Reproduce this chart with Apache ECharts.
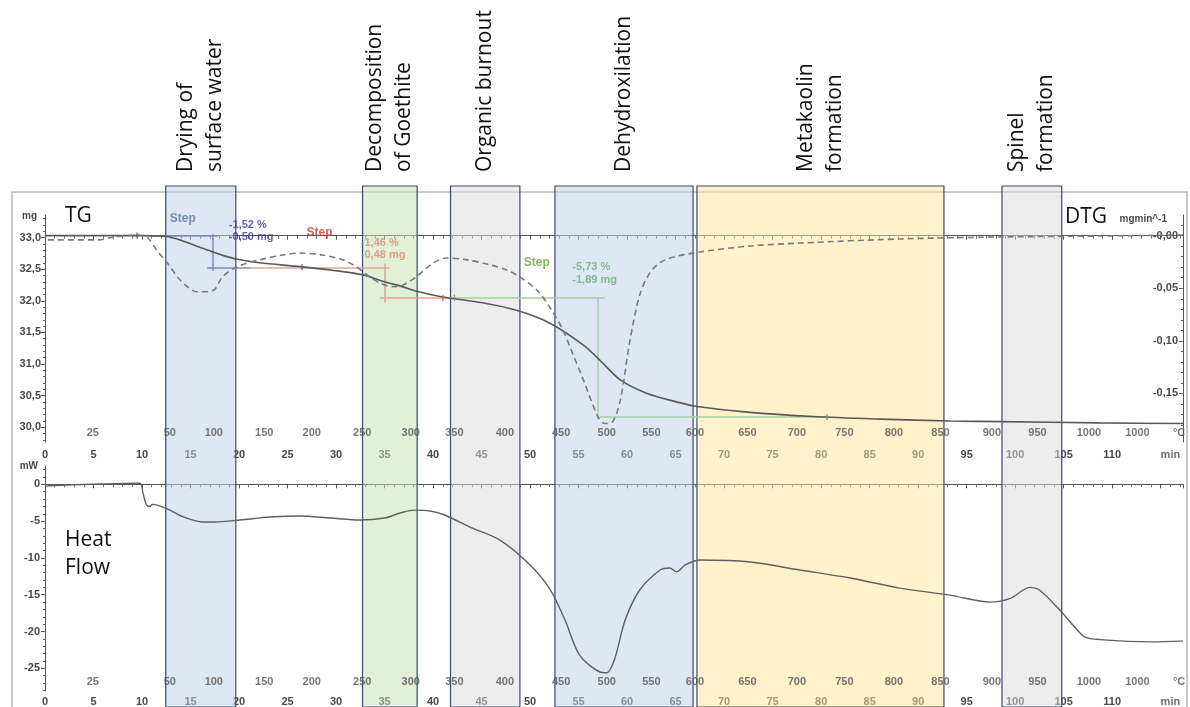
<!DOCTYPE html>
<html>
<head>
<meta charset="utf-8">
<script src="https://cdn.jsdelivr.net/npm/echarts@6/dist/echarts.min.js"></script>
<style>
  html, body { margin: 0; padding: 0; background: #ffffff; }
  #chart { width: 1190px; height: 707px; }
</style>
</head>
<body>
<div id="chart"></div>
<script>
// ---- Thermal analysis data (time in min) ----
// TG: sample mass, mg
const tgData = [
  [0, 33.03], [5, 33.03], [9.5, 33.03], [12.4, 33.02], [13.5, 32.98], [14.5, 32.93],
  [15.9, 32.85], [17.3, 32.77], [18.5, 32.71], [19.7, 32.66], [22.1, 32.60], [26.3, 32.54],
  [29.7, 32.48], [32.8, 32.41], [34.8, 32.31], [36.9, 32.22], [38.3, 32.15], [41.0, 32.06],
  [45.1, 31.97], [48.6, 31.85], [52.0, 31.65], [55.5, 31.30], [57.2, 31.06], [59.3, 30.75],
  [62.0, 30.54], [65.4, 30.39], [67.2, 30.33], [72.4, 30.24], [79.2, 30.17], [86.1, 30.13],
  [93.3, 30.10], [98.5, 30.09], [108.7, 30.07], [117.3, 30.06]
];
// DTG: mass change rate, mg/min
const dtgData = [
  [0.3, -0.004], [5.6, -0.004], [6.7, -0.002], [9.5, 0.0007], [10.5, -0.001], [11.5, -0.0136],
  [12.6, -0.026], [13.9, -0.042], [14.9, -0.050], [15.6, -0.0533], [16.7, -0.0533], [17.5, -0.051],
  [18.3, -0.039], [19.8, -0.0295], [22.1, -0.023], [24.5, -0.0184], [26.3, -0.0165], [28.6, -0.0184],
  [30.7, -0.023], [32.1, -0.0295], [33.2, -0.0374], [34.5, -0.045], [35.9, -0.0486], [36.9, -0.047],
  [38.3, -0.039], [40.0, -0.026], [41.4, -0.0212], [43.5, -0.023], [45.9, -0.0278], [47.6, -0.0326],
  [48.9, -0.039], [50.7, -0.0517], [52.0, -0.0676], [53.4, -0.0898], [54.1, -0.1057], [55.5, -0.1374],
  [57.0, -0.1724], [57.7, -0.1787], [58.5, -0.1771], [59.3, -0.1565], [60.3, -0.0993], [61.3, -0.0565],
  [62.4, -0.0346], [63.9, -0.023], [67.5, -0.0155], [72.7, -0.0098], [77.8, -0.007], [88.1, -0.0031],
  [98.4, -0.0012], [108.8, -0.0003], [117.3, 0.0007]
];
// DSC heat flow, mW
const heatFlowData = [
  [0.15, -0.23], [2.2, -0.1], [5.65, 0.04], [9.77, 0.14], [10.1, -1.2], [10.46, -2.8], [10.8, -3.0],
  [11.1, -2.72], [12.5, -3.26], [14.2, -4.4], [16.0, -5.08], [17.5, -5.12], [20.1, -4.85], [23.2, -4.44],
  [26.3, -4.3], [29.4, -4.58], [32.5, -4.85], [35.0, -4.58], [36.6, -3.9], [38.1, -3.5], [39.7, -3.63],
  [41.2, -4.17], [43.8, -5.8], [46.9, -7.57], [50.0, -10.96], [52.1, -14.36], [53.6, -18.44],
  [55.1, -23.2], [57.2, -25.5], [57.9, -25.6], [58.7, -23.8], [59.8, -18.44], [61.3, -14.36],
  [63.4, -11.64], [64.4, -11.37], [65.1, -11.9], [66.0, -10.96], [67.5, -10.28], [72.7, -10.55],
  [77.8, -11.64], [83.0, -12.73], [88.1, -14.1], [93.3, -15.05], [97.4, -16.0], [99.5, -15.5],
  [101.5, -14.0], [102.5, -14.36], [104.6, -17.08], [106.2, -19.5], [107.2, -20.75], [108.8, -21.1],
  [114.0, -21.4], [117.3, -21.3]
];

// Furnace temperature marks along the time axis
const tempTickMinutes = [4.93, 12.87, 17.4, 22.6, 27.5, 32.7, 37.7, 42.2, 47.4, 53.2, 57.9, 62.5,
  67.0, 72.4, 77.5, 82.4, 87.5, 92.3, 97.6, 102.3, 107.6, 112.6];
const tempTickLabels = ['25', '50', '100', '150', '200', '250', '300', '350', '400', '450', '500', '550',
  '600', '650', '700', '750', '800', '850', '900', '950', '1000', '1000'];
const unitMinutes = { temp: 116.9, time: 116.0 };

// Axis tick values
const tgTicks = [30.0, 30.5, 31.0, 31.5, 32.0, 32.5, 33.0];
const dtgTicks = [-0.15, -0.10, -0.05, 0.00];
const hfTicks = [-25, -20, -15, -10, -5, 0];

// Reaction stages (start/end, min)
const phaseBands = [[12.45, 19.67], [32.73, 38.36], [41.8, 48.95], [52.56, 66.8], [67.2, 92.66], [98.64, 104.8]];
const phaseNames = ['Drying of\nsurface water', 'Decomposition\nof Goethite', 'Organic burnout',
  'Dehydroxilation', 'Metakaolin\nformation', 'Spinel\nformation'];
const phaseFills = ['rgba(190,210,236,0.5)', 'rgba(198,226,178,0.5)', 'rgba(220,220,220,0.5)',
  'rgba(190,210,236,0.5)', 'rgba(255,229,153,0.5)', 'rgba(220,220,220,0.5)'];

// TG step evaluation: segments [[t1, mg1], [t2, mg2]]
const step1Lines = [[[10.8, 33.03], [17.8, 33.03]], [[17.27, 33.06], [17.27, 32.47]], [[16.7, 32.53], [21.2, 32.53]]];
const step2Lines = [[[21.2, 32.53], [35.5, 32.53]], [[35.07, 32.59], [35.07, 31.97]], [[34.5, 32.05], [42.2, 32.05]]];
const step3Lines = [[[41.0, 32.05], [57.7, 32.05]], [[57.0, 32.05], [57.0, 30.12]], [[57.0, 30.16], [80.6, 30.16]]];
const stepMarkers = [[9.5, 33.03, 0], [26.5, 32.53, 0], [41.0, 32.05, 1], [42.2, 32.05, 2], [80.6, 30.16, 2]];
// Step results: [t, mg, text, style]
const stepNotes = [
  [14.2, 33.29, 'Step', 0], [18.9, 33.20, '-1,52 %', 1], [18.9, 33.01, '-0,50 mg', 1],
  [28.3, 33.07, 'Step', 2], [32.5, 32.91, '-1,46 %', 3], [32.5, 32.72, '-0,48 mg', 3],
  [50.7, 32.61, 'Step', 4], [54.3, 32.53, '-5,73 %', 5], [54.3, 32.33, '-1,89 mg', 5]
];
const stepLineColors = ['#7f8dbb', '#e3a594', '#a3cfa3'];
const stepNoteColors = ['#5a72a8', '#3d3b9c', '#c3342a', '#d98a72', '#6e9d3e', '#6fae6f'];

// ---- Axis extents ----
const T_MAX = 117.3;
const TG_MIN = 29.768, TG_MAX = 33.356;
const DTG_MIN = -0.1963, DTG_MAX = 0.0197;
const HF_MIN = -28.08, HF_MAX = 2.49;

const axisFont = { fontFamily: 'Liberation Sans', fontWeight: 'bold', fontSize: 11, color: '#4a4a4a' };
const axisLineStyle = { color: '#555', width: 1 };

function range(a, b, step) {
  const out = [];
  for (let v = a; v <= b + 1e-9; v += step) out.push(+v.toFixed(4));
  return out;
}
const comma = (v, d) => v.toFixed(d).replace('.', ',');

function timeAxis(gridIndex, margin) {
  return {
    type: 'value', gridIndex, min: 0, max: T_MAX, interval: 5, position: 'bottom',
    axisLine: { show: true, lineStyle: axisLineStyle },
    axisTick: { show: true, length: 4, lineStyle: axisLineStyle },
    minorTick: { show: true, splitNumber: 5, length: 3, lineStyle: { color: '#777' } },
    splitLine: { show: false }, minorSplitLine: { show: false },
    axisLabel: Object.assign({ margin, formatter: v => (v % 5 === 0 && v <= 110 ? String(v) : '') }, axisFont)
  };
}
function minorAxis(gridIndex, position, min, max, values, inside) {
  return {
    type: 'value', gridIndex, position, min, max,
    axisLine: { show: false }, axisLabel: { show: false }, splitLine: { show: false },
    axisTick: { show: true, inside: !!inside, length: 2, customValues: values, lineStyle: { color: '#666' } }
  };
}

const labelSeries = (xIdx, yIdx, yVal) => ({
  type: 'scatter', xAxisIndex: xIdx, yAxisIndex: yIdx, symbolSize: 1, silent: true, z: 3,
  itemStyle: { color: 'rgba(0,0,0,0)' },
  data: tempTickMinutes.map((t, i) => ({ value: [t, yVal], label: { formatter: tempTickLabels[i] } }))
    .concat([{ value: [unitMinutes.temp, yVal], label: { formatter: '°C' } }]),
  label: Object.assign({ show: true, position: 'top', distance: 3 }, axisFont, { color: '#555' })
});
const unitBelow = (xIdx, yIdx, yVal, dist) => ({
  type: 'scatter', xAxisIndex: xIdx, yAxisIndex: yIdx, symbolSize: 1, silent: true, z: 3,
  itemStyle: { color: 'rgba(0,0,0,0)' },
  data: [[unitMinutes.time, yVal]],
  label: Object.assign({ show: true, position: 'bottom', distance: dist, formatter: 'min' }, axisFont)
});

function stepSeries(lines, color) {
  return {
    type: 'line', xAxisIndex: 0, yAxisIndex: 0, data: [], silent: true, z: 4,
    markLine: {
      silent: true, symbol: 'none', animation: false,
      lineStyle: { color, width: 1.5, type: 'solid' }, label: { show: false },
      data: lines.map(seg => [{ coord: seg[0] }, { coord: seg[1] }])
    }
  };
}

const option = {
  animation: false,
  backgroundColor: '#ffffff',
  grid: [
    { left: 45, right: 7, top: 215, bottom: 265 },
    { left: 45, right: 7, top: 466, bottom: 16 },
    { left: 45, right: 7, top: 186, bottom: 0 }
  ],
  xAxis: [
    timeAxis(0, 7),
    timeAxis(1, 5),
    { type: 'value', gridIndex: 2, min: 0, max: T_MAX, show: false }
  ],
  yAxis: [
    { // TG
      type: 'value', gridIndex: 0, position: 'left', min: TG_MIN, max: TG_MAX,
      name: 'mg', nameLocation: 'end', nameGap: -6,
      nameTextStyle: Object.assign({ align: 'right', padding: [0, 8, 0, 0] }, axisFont, { fontSize: 10 }),
      axisLine: { show: true, lineStyle: axisLineStyle },
      axisTick: { show: true, length: 4, customValues: tgTicks, lineStyle: axisLineStyle },
      axisLabel: Object.assign({ margin: 4, customValues: tgTicks, formatter: v => comma(v, 1) }, axisFont),
      splitLine: { show: false }
    },
    minorAxis(0, 'left', TG_MIN, TG_MAX, range(29.8, 33.3, 0.1)),
    { // DTG
      type: 'value', gridIndex: 0, position: 'right', min: DTG_MIN, max: DTG_MAX,
      name: 'mgmin^-1', nameLocation: 'end', nameGap: -9,
      nameTextStyle: Object.assign({ align: 'right', padding: [0, 16, 0, 0] }, axisFont, { fontSize: 10 }),
      axisLine: { show: true, lineStyle: axisLineStyle },
      axisTick: { show: true, inside: true, length: 4, customValues: dtgTicks, lineStyle: axisLineStyle },
      axisLabel: Object.assign({ inside: true, margin: 5, customValues: dtgTicks,
        formatter: v => (Math.abs(v) < 1e-9 ? '-0,00' : comma(v, 2)) }, axisFont),
      splitLine: { show: false }
    },
    minorAxis(0, 'right', DTG_MIN, DTG_MAX, range(-0.19, 0.01, 0.01), true),
    { // Heat flow
      type: 'value', gridIndex: 1, position: 'left', min: HF_MIN, max: HF_MAX,
      name: 'mW', nameLocation: 'end', nameGap: -5,
      nameTextStyle: Object.assign({ align: 'right', padding: [0, 7, 0, 0] }, axisFont, { fontSize: 10 }),
      axisLine: { show: true, lineStyle: axisLineStyle },
      axisTick: { show: true, length: 4, customValues: hfTicks, lineStyle: axisLineStyle },
      axisLabel: Object.assign({ margin: 5, customValues: hfTicks, formatter: v => String(v) }, axisFont),
      splitLine: { show: false }
    },
    minorAxis(1, 'left', HF_MIN, HF_MAX, range(-28, 2, 1)),
    { type: 'value', gridIndex: 2, min: 0, max: 1, show: false }
  ],
  series: [
    {
      name: 'TG', type: 'line', xAxisIndex: 0, yAxisIndex: 0, data: tgData, smooth: 0.3,
      showSymbol: false, lineStyle: { color: '#595959', width: 1.6 }, z: 5
    },
    {
      name: 'DTG', type: 'line', xAxisIndex: 0, yAxisIndex: 2, data: dtgData, smooth: 0.3,
      showSymbol: false, lineStyle: { color: '#7a7a7a', width: 1.6, type: [6, 4] }, z: 5
    },
    {
      name: 'Heat Flow', type: 'line', xAxisIndex: 1, yAxisIndex: 4, data: heatFlowData, smooth: 0.3,
      showSymbol: false, lineStyle: { color: '#606060', width: 1.4 }, z: 5
    },
    stepSeries(step1Lines, stepLineColors[0]),
    stepSeries(step2Lines, stepLineColors[1]),
    stepSeries(step3Lines, stepLineColors[2]),
    {
      type: 'scatter', xAxisIndex: 0, yAxisIndex: 0, silent: true, z: 6, symbol: 'rect',
      symbolSize: [1.5, 6],
      data: stepMarkers.map(m => ({ value: [m[0], m[1]], itemStyle: { color: ['#44508a', '#d0604a', '#5f9e5f'][m[2]] } }))
    },
    {
      type: 'scatter', xAxisIndex: 0, yAxisIndex: 0, silent: true, z: 6, symbolSize: 1,
      itemStyle: { color: 'rgba(0,0,0,0)' },
      data: stepNotes.map(n => ({
        value: [n[0], n[1]],
        label: {
          show: true, formatter: n[2], color: stepNoteColors[n[3]],
          position: n[2] === 'Step' ? 'inside' : 'right', distance: 0,
          fontFamily: 'Liberation Sans', fontWeight: 'bold', fontSize: n[2] === 'Step' ? 12 : 11
        }
      }))
    },
    labelSeries(0, 0, TG_MIN),
    labelSeries(1, 4, HF_MIN),
    unitBelow(0, 0, TG_MIN, 7),
    unitBelow(1, 4, HF_MIN, 5),
    { // reaction stage bands, drawn over everything
      type: 'line', xAxisIndex: 2, yAxisIndex: 6, data: [[0, 0]], symbol: 'none', silent: true,
      lineStyle: { opacity: 0 }, z: 10,
      markArea: {
        silent: true,
        data: phaseBands.map((b, i) => [
          { xAxis: b[0], itemStyle: { color: phaseFills[i], borderColor: '#3a4a72', borderWidth: 1.2 } },
          { xAxis: b[1] }
        ])
      }
    }
  ]
};

const chart = echarts.init(document.getElementById('chart'), null, { renderer: 'canvas' });
chart.setOption(option);

// Frame, panel titles and stage captions
const titleFont = { fontFamily: 'Open Sans', fontSize: 21, fill: '#111' };
const graphics = [
  { type: 'rect', z: -1, shape: { x: 12, y: 192, width: 1175, height: 530 },
    style: { fill: 'none', stroke: '#b8b8b8', lineWidth: 1.5 } },
  { type: 'text', z: 20, x: 65, y: 216, style: Object.assign({ text: 'TG', verticalAlign: 'middle' }, titleFont) },
  { type: 'text', z: 20, x: 1065, y: 217, style: Object.assign({ text: 'DTG', verticalAlign: 'middle' }, titleFont) },
  { type: 'text', z: 20, x: 65, y: 554, style: Object.assign({ text: 'Heat\nFlow', verticalAlign: 'middle', lineHeight: 28 }, titleFont) }
];
phaseBands.forEach((b, i) => {
  const cx = chart.convertToPixel({ xAxisIndex: 2 }, (b[0] + b[1]) / 2);
  graphics.push({
    type: 'text', z: 20, x: cx, y: 172, rotation: Math.PI / 2,
    style: Object.assign({ text: phaseNames[i], align: 'left', verticalAlign: 'middle', lineHeight: 29 }, titleFont)
  });
});
chart.setOption({ graphic: graphics });
</script>
</body>
</html>
